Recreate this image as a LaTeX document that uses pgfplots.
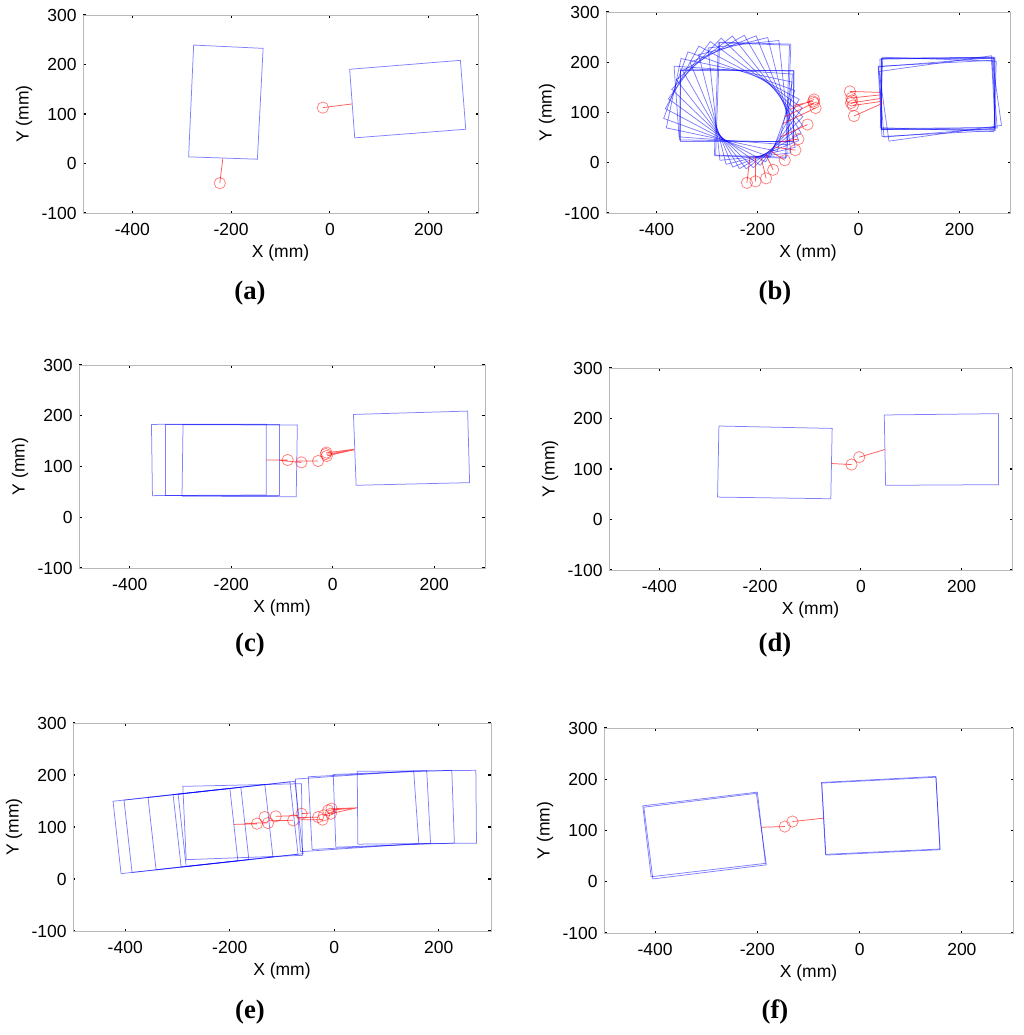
\documentclass[border=0pt]{standalone}
\usepackage{fontspec}
\setmainfont{Liberation Sans}
\newfontfamily\capfont{Liberation Serif}
\usepackage{pgfplots}
\pgfplotsset{compat=1.18}

\pgfplotsset{
  panel/.style={
    scale only axis, anchor=south west,
    xmin=-500, xmax=300, ymin=-100, ymax=300,
    xtick={-400,-200,0,200}, xticklabels={-400,-200,0,200},
    ytick={-100,0,100,200,300}, yticklabels={-100,0,100,200,300},
    axis line style={black!28},
    tick style={black, line width=0.7pt},
    major tick length=1.5pt, tick align=inside, tick pos=both,
    ticklabel style={font=\fontsize{10.5}{12}\selectfont},
    label style={font=\fontsize{10.5}{12}\selectfont},
    xticklabel style={yshift=-2.5pt},
    yticklabel style={xshift=-0.3pt},
    xlabel={X (mm)}, ylabel={Y (mm)},
    xlabel style={at={([yshift=-24pt]axis description cs:0.5,0)}, anchor=center},
    ylabel style={at={([xshift=-35.4pt]axis description cs:0,0.5)}, anchor=center},
    unbounded coords=jump,
  },
  rect/.style={blue, draw opacity=0.5, line width=0.45pt, no markers},
  link/.style={red, draw opacity=0.65, line width=0.45pt, no markers},
  ring/.style={only marks, mark=o, mark size=3.4pt, red, mark options={draw opacity=0.5, line width=0.45pt}},
}

\begin{document}
\begin{tikzpicture}
\path[use as bounding box] (0,0) rectangle (614.4pt,-621pt);

% (a)
\begin{axis}[panel, at={(49.8pt,-127.8pt)}, width=237pt, height=118.8pt]
\addplot[rect] coordinates {(-286.1,13.4) (-146.8,8.7) (-135.2,232.6) (-275.9,239.3) (-286.1,13.4)};
\addplot[rect] coordinates {(50.3,51.8) (275.2,69.2) (264.3,208.4) (40.1,190.3) (50.3,51.8)};
\addplot[link] table {
x y
-216.8 10.1
-222.9 -39.7
nan nan
44.8 120.3
-14.3 112.9
};
\addplot[ring] coordinates {(-222.9,-39.7) (-14.3,112.9)};
\end{axis}

% (b)
\begin{axis}[panel, at={(363.6pt,-127.8pt)}, width=242.4pt, height=120.6pt]
\addplot[rect] coordinates {(-285.4,14.0) (-144.5,9.1) (-136.6,234.0) (-277.5,238.9) (-285.4,14.0)};
\addplot[rect] coordinates {(-283,15) (-142,11) (-134,236) (-275,240) (-283,15)};
\addplot[rect] coordinates {(-274.4,4.8) (-134.1,19.5) (-157.7,243.3) (-297.9,228.5) (-274.4,4.8)};
\addplot[rect] coordinates {(-262.2,-3.2) (-125.4,30.9) (-179.8,249.2) (-316.6,215.1) (-262.2,-3.2)};
\addplot[rect] coordinates {(-249.2,-8.7) (-118.5,44.1) (-202.8,252.7) (-333.5,199.9) (-249.2,-8.7)};
\addplot[rect] coordinates {(-235.8,-11.7) (-113.7,58.8) (-226.2,253.7) (-348.3,183.2) (-235.8,-11.7)};
\addplot[rect] coordinates {(-222.3,-12.1) (-111.2,74.8) (-249.7,252.1) (-360.8,165.2) (-222.3,-12.1)};
\addplot[rect] coordinates {(-208.1,-9.9) (-110.1,91.6) (-271.9,247.9) (-369.9,146.4) (-208.1,-9.9)};
\addplot[rect] coordinates {(-194.4,-5.2) (-111.6,108.9) (-293.6,241.2) (-376.5,127.1) (-194.4,-5.2)};
\addplot[rect] coordinates {(-183.8,1.9) (-117.6,126.4) (-316.2,232.1) (-382.4,107.6) (-183.8,1.9)};
\addplot[rect] coordinates {(-174.4,11.3) (-126.2,143.8) (-337.6,220.7) (-385.8,88.2) (-174.4,11.3)};
\addplot[rect] coordinates {(-160.6,22.7) (-131.3,160.6) (-351.4,207.4) (-380.7,69.4) (-160.6,22.7)};
\addplot[rect] coordinates {(-140.7,35.8) (-130.9,176.5) (-365.2,192.2) (-355.3,51.5) (-140.7,35.8)};
\addplot[rect] coordinates {(-128.5,43.5) (-128.5,184.5) (-353.5,184.5) (-353.5,43.5) (-128.5,43.5)};
\addplot[rect] coordinates {(-129.5,41.5) (-127.5,182.5) (-352.5,186.5) (-354.5,45.5) (-129.5,41.5)};
\addplot[rect] coordinates {(50.5,51.2) (274.7,69.2) (263.5,208.8) (39.3,190.8) (50.5,51.2)};
\addplot[rect] coordinates {(44.7,66.0) (269.7,70.0) (267.3,210.0) (42.3,206.0) (44.7,66.0)};
\addplot[rect] coordinates {(44.5,67) (269.5,67) (269.5,207) (44.5,207) (44.5,67)};
\addplot[rect] coordinates {(60.3,43.0) (283.1,74.4) (263.7,213.0) (40.9,181.6) (60.3,43.0)};
\addplot[rect] coordinates {(46.4,52.2) (271.0,64.0) (263.6,203.8) (39.0,192.0) (46.4,52.2)};
\addplot[rect] coordinates {(45.6,68.0) (270.6,70.0) (270.4,210.0) (45.4,208.0) (45.6,68.0)};
\addplot[rect] coordinates {(43.2,69.9) (268.0,62.1) (272.8,202.1) (48.0,209.9) (43.2,69.9)};
\addplot[link] table {
x y
-214.9 11.6
-221 -40
nan nan
-204.2 12.1
-204 -37
nan nan
-193.8 13.8
-183 -31
nan nan
-183.9 17.7
-169 -14
nan nan
-174.8 23.6
-146 5
nan nan
-166.7 31.4
-125 25
nan nan
-159.1 40.9
-119 47
nan nan
-153 51.9
-101 76
nan nan
-150.3 77.5
-85 109
nan nan
-146 91.6
-88 119
nan nan
-135.8 106.2
-88 126
nan nan
-128.5 114
-90 122
nan nan
42 140
-17 142
nan nan
43 135
-14 129
nan nan
44 128
-15 119
nan nan
45 122
-11 114
nan nan
47 118
-9 93
};
\addplot[ring] coordinates {(-221,-40) (-204,-37) (-183,-31) (-169,-14) (-146,5) (-125,25) (-119,47) (-101,76) (-85,109) (-88,119) (-88,126) (-90,122)
  (-17,142) (-14,129) (-15,119) (-11,114) (-9,93) (-13,124)};
\end{axis}

% (c)
\begin{axis}[panel, at={(47.4pt,-340.8pt)}, width=243.6pt, height=121.8pt]
\addplot[rect] coordinates {(-355.3,42.6) (-130.9,43.9) (-130.9,183.5) (-357.2,183) (-355.3,42.6)};
\addplot[rect] coordinates {(-329.6,43.5) (-104.6,43.5) (-104.6,183.5) (-329.6,183.5) (-329.6,43.5)};
\addplot[rect] coordinates {(-297,41.5) (-72,40.5) (-69.7,181.6) (-295,182.5) (-297,41.5)};
\addplot[rect] coordinates {(46.1,63) (269.7,68.2) (265.8,209.2) (40.8,202.6) (46.1,63)};
\addplot[link] table {
x y
-131 113
-89 113
nan nan
-105 112
-62 108
nan nan
-70 111
-29 111
nan nan
42 132.5
-12 124
nan nan
42 133
-11 121
nan nan
42 134
-13 127
};
\addplot[ring] coordinates {(-88.8,112.8) (-61.8,108.2) (-28.9,110.8) (-13.8,124.6) (-11.8,120.7) (-12.5,127.5)};
\end{axis}

% (d)
\begin{axis}[panel, at={(365.4pt,-342pt)}, width=241.8pt, height=121.2pt]
\addplot[rect] coordinates {(-284.5,44.4) (-59.7,41.1) (-57,180.4) (-281.8,185.1) (-284.5,44.4)};
\addplot[rect] coordinates {(49.1,67.7) (273.2,69) (273.2,209.6) (46.4,207) (49.1,67.7)};
\addplot[link] table {
x y
-58.4 110.8
-18.6 108.8
nan nan
47.7 138.6
-3.3 123.4
};
\addplot[ring] coordinates {(-18.6,108.8) (-3.3,123.4)};
\end{axis}

% (e)
\begin{axis}[panel, at={(43.8pt,-558.6pt)}, width=250.8pt, height=124.8pt]
\addplot[rect] coordinates {(-408,10.3) (-184.4,35) (-199.8,174.2) (-423.4,149.5) (-408,10.3)};
\addplot[rect] coordinates {(-387,12.6) (-163.4,37.3) (-178.8,176.5) (-402.4,151.8) (-387,12.6)};
\addplot[rect] coordinates {(-341,17.7) (-117.4,42.4) (-132.8,181.6) (-356.4,156.9) (-341,17.7)};
\addplot[rect] coordinates {(-293,23) (-69.4,47.7) (-84.8,186.9) (-308.4,162.2) (-293,23)};
\addplot[rect] coordinates {(-283.4,24) (-59.8,48.7) (-75.2,187.9) (-298.8,163.2) (-283.4,24)};
\addplot[rect] coordinates {(-283.4,37.2) (-60.8,45.5) (-62.7,183.3) (-289.8,178.2) (-283.4,37.2)};
\addplot[rect] coordinates {(-64.6,52.5) (161.8,68.3) (152,208) (-74.4,192.2) (-64.6,52.5)};
\addplot[rect] coordinates {(-42.4,56.8) (184.3,68.7) (177,208.5) (-49.7,196.6) (-42.4,56.8)};
\addplot[rect] coordinates {(3,61.2) (229.9,69.1) (225,209) (-1.9,201.1) (3,61.2)};
\addplot[rect] coordinates {(45.2,67) (272.2,69) (271,209) (44,207) (45.2,67)};
\addplot[link] table {
x y
-192 105
-148 106
nan nan
-171 107
-127 108
nan nan
-125 112
-79 113
nan nan
-70 118
-31 119
nan nan
-62 114
-22 114
nan nan
-69.5 122
-112 120.5
nan nan
-46 127
-63 125.6
nan nan
0.6 131
-20 122
nan nan
44.6 137
-6 126
nan nan
44.6 137
-5 135
nan nan
44.6 137
-11.5 132
};
\addplot[ring] coordinates {(-147.8,106.4) (-133.1,119.2) (-126.7,107.7) (-112,120.5) (-78.7,112.8) (-62.7,125.6)
  (-30.7,119.2) (-22.4,114.1) (-19.8,122.4) (-11.5,132.1) (-6.4,125.6) (-5.1,135.3)};
\end{axis}

% (f)
\begin{axis}[panel, at={(362.4pt,-559.8pt)}, width=245.4pt, height=123pt]
\addplot[rect] coordinates {(-407.8,9.8) (-184.3,35.9) (-200,174.9) (-424.2,148.1) (-407.8,9.8)};
\addplot[rect] coordinates {(-404.5,5.5) (-182.5,33) (-202,172.5) (-422,145.5) (-404.5,5.5)};
\addplot[rect] coordinates {(-66.7,53.5) (157.5,63.9) (149,205.5) (-74.5,193.8) (-66.7,53.5)};
\addplot[rect] coordinates {(-66,52) (157,62.5) (149.5,204) (-74,192.5) (-66,52)};
\addplot[link] table {
x y
-192.2 106.4
-146.4 107.7
nan nan
-71.2 124
-131.4 117.5
};
\addplot[ring] coordinates {(-146.4,107.7) (-131.4,117.5)};
\end{axis}

\begin{scope}[every node/.style={font=\capfont\bfseries\fontsize{16}{18}\selectfont}]
\node at (150pt,-175.8pt) {(a)};
\node at (465pt,-175.8pt) {(b)};
\node at (150pt,-387pt) {(c)};
\node at (465pt,-387pt) {(d)};
\node at (150pt,-607.2pt) {(e)};
\node at (465pt,-607.2pt) {(f)};
\end{scope}
\end{tikzpicture}
\end{document}
